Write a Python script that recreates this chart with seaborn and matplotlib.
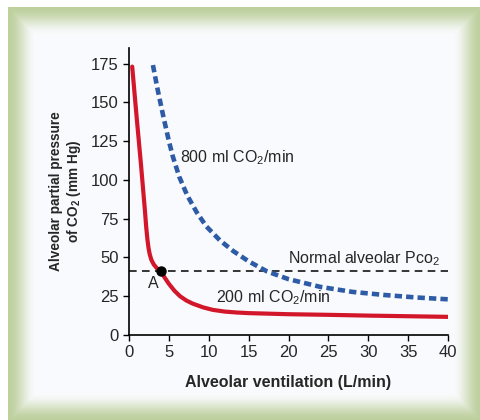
import numpy as np
import matplotlib
matplotlib.use('Agg')
import matplotlib.pyplot as plt
import seaborn as sns

# values
vent_200 = [0.4, 1.0, 1.5, 1.8, 2.0, 2.15, 2.3, 2.45, 2.6, 2.8, 3.1, 3.5,
            4.0, 4.5, 5.0, 5.7, 6.4, 7.2, 8.0, 9.3, 10.5, 12.0, 13.5, 15.0,
            20.0, 25.0, 30.0, 35.0, 40.0]
pco2_200 = [173, 138, 110, 92, 80, 70, 62, 56, 52, 48.5, 45.5, 43,
            41, 36.8, 33, 28.5, 25, 22.2, 20.2, 17.8, 16.2, 15.1, 14.5, 14.1,
            13.4, 13.0, 12.5, 12.1, 11.7]

vent_800 = [3.0, 3.6, 4.3, 5.0, 5.5, 6.3, 7.3, 8.5, 9.7, 11.4, 13.1, 15.0,
            17.3, 20.0, 24.0, 28.0, 32.0, 36.0, 40.0]
pco2_800 = [174, 158, 141, 125, 115, 102, 90, 79, 70, 61, 54, 47.5,
            41, 36, 31, 27.8, 25.8, 24.2, 23.0]

normal_pco2 = 41
point_a = (4.0, 41)

x_ticks = [0, 5, 10, 15, 20, 25, 30, 35, 40]
y_ticks = [0, 25, 50, 75, 100, 125, 150, 175]

sns.set_style('white')
plt.rcParams['font.family'] = ['Liberation Sans', 'DejaVu Sans']
plt.rcParams['mathtext.fontset'] = 'custom'
plt.rcParams['mathtext.rm'] = 'Liberation Sans'

W, H = 480, 420
fig = plt.figure(figsize=(W / 100, H / 100), dpi=100)

# green bevelled frame behind the plot
yy, xx = np.mgrid[0:H, 0:W]
d = np.minimum.reduce([xx - 8.0, yy - 7.0, W - xx + 0.0, H - yy + 0.0])
t = np.clip(d / 28.0, 0, 1)
t = t * t * (3 - 2 * t)
green = np.array([190, 208, 158]) / 255
panel = np.array([249, 251, 253]) / 255
img = green * (1 - t[..., None]) + panel * t[..., None]
img[(xx < 8) | (yy < 7)] = 1.0
bg = fig.add_axes([0, 0, 1, 1])
bg.imshow(img, aspect='auto', interpolation='bilinear')
bg.axis('off')

ax = fig.add_axes([129 / W, 85 / H, 319 / W, 287 / H])
ax.patch.set_alpha(0)

ax.axhline(normal_pco2, color='black', lw=1.1, ls=(0, (5, 3.5)), zorder=1)
sns.lineplot(x=vent_800, y=pco2_800, ax=ax, color='#2E5BA6', lw=3.3,
             linestyle=(0, (1.6, 0.9)), zorder=2)
sns.lineplot(x=vent_200, y=pco2_200, ax=ax, color='#D3172B', lw=3.0, zorder=3)
ax.plot(*point_a, 'o', color='black', ms=6.5, zorder=4)

ax.text(6.4, 114, r'800 ml CO$\mathregular{_2}$/min', fontsize=11.5, va='center')
ax.text(19.9, 49, r'Normal alveolar Pco$\mathregular{_2}$', fontsize=11.5, va='center')
ax.text(10.9, 24, r'200 ml CO$\mathregular{_2}$/min', fontsize=11.5, va='center')
ax.text(3.0, 33, 'A', fontsize=11.5, ha='center', va='center')

ax.set_xlim(0, 40)
ax.set_ylim(0, 185)
ax.set_xticks(x_ticks)
ax.set_yticks(y_ticks)
ax.tick_params(direction='out', length=4.5, width=1, color='black',
               labelsize=12, pad=3, bottom=True, left=True)
sns.despine(ax=ax)
for s in ('left', 'bottom'):
    ax.spines[s].set_color('black')
    ax.spines[s].set_linewidth(1.2)

ax.set_xlabel('Alveolar ventilation (L/min)', fontsize=11.5, fontweight='bold')
ax.set_ylabel('Alveolar partial pressure\n' + r'of CO$\mathregular{_2}$ (mm Hg)',
              fontsize=9.8, fontweight='bold', linespacing=1.15)
ax.xaxis.set_label_coords(0.5, -0.14)
ax.yaxis.set_label_coords(-0.145, 0.5)

fig.savefig('out.png', dpi=100)
